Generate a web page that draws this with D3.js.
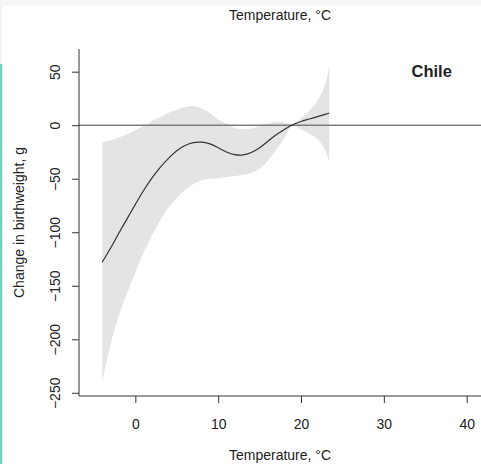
<!DOCTYPE html>
<html>
<head>
<meta charset="utf-8">
<script src="https://cdn.jsdelivr.net/npm/d3@7"></script>
<style>
  html, body { margin: 0; padding: 0; background: #ffffff; }
  svg { display: block; }
  text { font-family: "Liberation Sans", Arial, Helvetica, sans-serif; fill: #222; }
</style>
</head>
<body>
<div id="chart"></div>
<script>
// Temperature grid (°C) and the fitted change in birthweight (g) with its confidence band
const temperature = [-4, -3, -2, -1, 0, 1, 2, 3, 4, 5, 6, 7, 8, 9, 10, 11, 12, 13, 14, 15, 16, 17, 18, 19, 20, 21, 22, 23, 23.4];
const estimate    = [-128, -115, -101, -87.5, -74, -61, -49.5, -39.5, -31, -23.8, -19, -16.3, -15.8, -17.5, -21, -25, -27.5, -27.8, -25.5, -21, -15, -9, -4, 0.5, 3.5, 5.8, 8, 10.3, 11.4];
const upperCI     = [-16, -14, -11.5, -8.5, -4.5, -0.5, 4, 7.5, 11.5, 14.5, 17, 18, 15.5, 11.5, 5, 1.5, -2.5, -3.8, -3, -1, 1.5, 3.5, 2.5, 1, 6.5, 13.5, 23, 40, 58];
const lowerCI     = [-241, -205, -178, -157, -137.5, -119, -103, -89, -77, -68, -60.5, -55, -51.5, -50, -49.5, -48.5, -47.5, -46.5, -44.5, -41, -33, -23, -12, 0, -4, -8, -13, -25, -34];

const xTicks = [0, 10, 20, 30, 40];
const yTicks = [50, 0, -50, -100, -150, -200, -250];
const countryLabel = "Chile";
const axisTitle = "Temperature, °C";
const yTitle = "Change in birthweight, g";

const W = 481, H = 464;
const svg = d3.select("#chart").append("svg").attr("width", W).attr("height", H);

// page furniture: light header strip and accent bar on the left edge
svg.append("rect").attr("x", 0).attr("y", 0).attr("width", W).attr("height", 6).attr("fill", "#f7f7f7");
svg.append("rect").attr("x", 0).attr("y", 6).attr("width", 2).attr("height", 58).attr("fill", "#f3f3f3");
svg.append("rect").attr("x", 0).attr("y", 64).attr("width", 2.3).attr("height", H - 64).attr("fill", "#64d9c1");

const plot = { left: 79, right: 481.6, top: 49, bottom: 396 };

const x = d3.scaleLinear().domain([-6.8, 41.8]).range([plot.left, plot.right]);
const y = d3.scaleLinear().domain([-253, 71.2]).range([plot.bottom, plot.top]);

const rows = temperature.map((t, i) => ({ t, est: estimate[i], lo: lowerCI[i], hi: upperCI[i] }));
const smooth = d3.curveCatmullRom.alpha(0.5);

// confidence band
const band = d3.area()
  .x(d => x(d.t))
  .y0(d => y(d.lo))
  .y1(d => y(d.hi))
  .curve(smooth);
svg.append("path").datum(rows).attr("d", band).attr("fill", "#e4e4e4");

// reference line at zero
svg.append("line")
  .attr("x1", plot.left).attr("x2", W)
  .attr("y1", y(0)).attr("y2", y(0))
  .attr("stroke", "#7c7c7c").attr("stroke-width", 1.6);

// fitted curve
const curve = d3.line()
  .x(d => x(d.t))
  .y(d => y(d.est))
  .curve(smooth);
svg.append("path").datum(rows).attr("d", curve)
  .attr("fill", "none").attr("stroke", "#333").attr("stroke-width", 1.2);

// L-shaped frame
svg.append("path")
  .attr("d", `M${plot.left},${plot.top}V${plot.bottom}H${W}`)
  .attr("fill", "none").attr("stroke", "#333").attr("stroke-width", 1);

// x axis ticks and labels
const xAxis = d3.axisBottom(x).tickValues(xTicks).tickSize(7).tickPadding(16).tickFormat(d3.format("d"));
const gx = svg.append("g").attr("transform", `translate(0,${plot.bottom})`).call(xAxis);
gx.select(".domain").remove();
gx.selectAll(".tick line").attr("stroke", "#333");
gx.selectAll(".tick text").attr("font-size", 14).attr("fill", "#222")
  .attr("font-family", "Liberation Sans, Arial, sans-serif");

// y axis ticks and rotated labels
const yAxis = d3.axisLeft(y).tickValues(yTicks).tickSize(7).tickFormat(d3.format("d"));
const gy = svg.append("g").attr("transform", `translate(${plot.left},0)`).call(yAxis);
gy.select(".domain").remove();
gy.selectAll(".tick line").attr("stroke", "#333");
gy.selectAll(".tick text")
  .attr("x", null).attr("dy", null)
  .attr("font-size", 14).attr("fill", "#222")
  .attr("font-family", "Liberation Sans, Arial, sans-serif")
  .attr("text-anchor", "middle")
  .attr("transform", `translate(${60 - plot.left},0) rotate(-90)`);

// titles
svg.append("text").attr("x", (plot.left + W) / 2).attr("y", 20)
  .attr("text-anchor", "middle").attr("font-size", 14).text(axisTitle);
svg.append("text").attr("x", (plot.left + W) / 2).attr("y", 460)
  .attr("text-anchor", "middle").attr("font-size", 14).text(axisTitle);
svg.append("text")
  .attr("transform", `translate(23.5,${(plot.top + plot.bottom) / 2}) rotate(-90)`)
  .attr("text-anchor", "middle").attr("font-size", 14).text(yTitle);

// country label
svg.append("text").attr("x", 411.5).attr("y", 77)
  .attr("font-size", 16.5).attr("font-weight", "bold").attr("fill", "#111").text(countryLabel);
</script>
</body>
</html>
